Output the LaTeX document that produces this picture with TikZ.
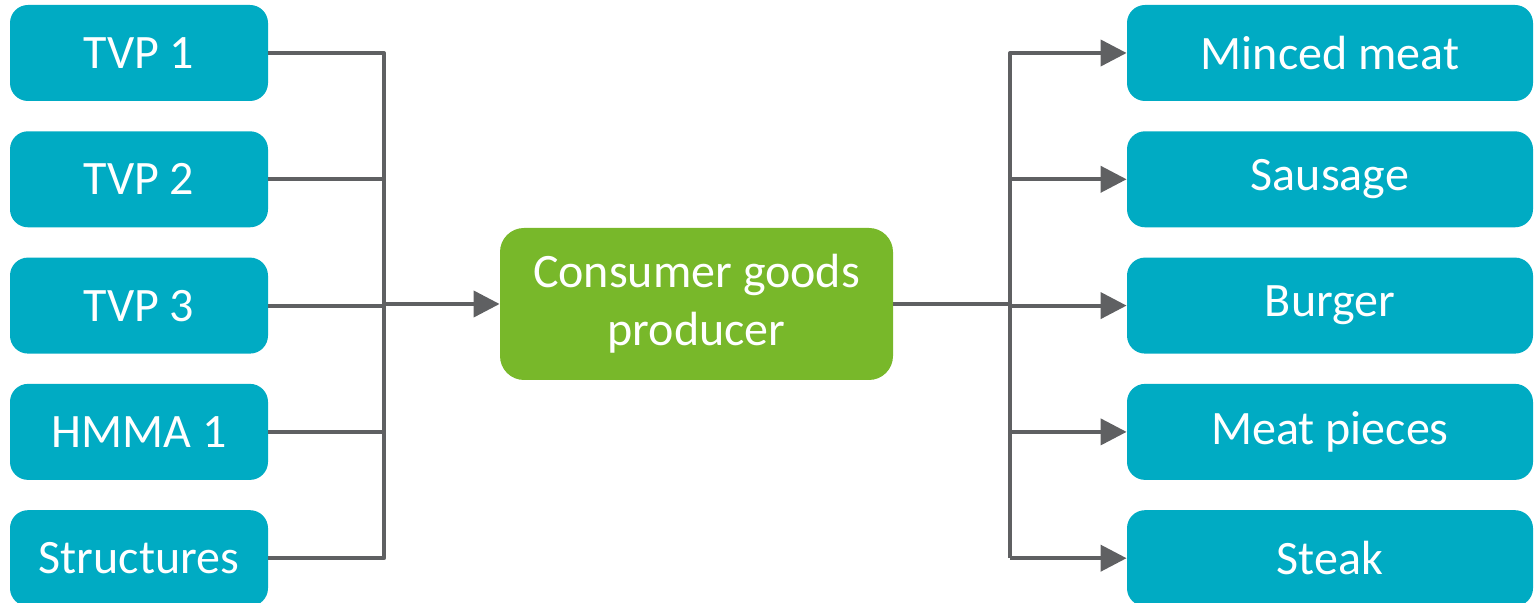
\documentclass[tikz,border=0pt]{standalone}
\usepackage{fontspec}
\setmainfont{Carlito}
\usetikzlibrary{positioning,arrows.meta}

\definecolor{boxteal}{HTML}{00ABC3}
\definecolor{boxgreen}{HTML}{78B82A}
\definecolor{wiregray}{HTML}{5F6062}

\tikzset{
  basebox/.style={rounded corners=9pt, inner sep=0pt, text=white,
    font=\fontsize{24}{29}\selectfont},
  inbox/.style={basebox, fill=boxteal, minimum width=129pt, minimum height=48pt},
  outbox/.style={basebox, fill=boxteal, minimum width=203pt, minimum height=48pt},
  prodbox/.style={basebox, fill=boxgreen, rounded corners=12pt, align=center,
    minimum width=196.5pt, minimum height=76pt},
  wire/.style={draw=wiregray, line width=2pt, line join=round},
  feed/.style={wire, -{Triangle[length=13pt, width=13pt]}}
}

\begin{document}
\begin{tikzpicture}
  \useasboundingbox (0,0) rectangle (769pt,-301.5pt);
  % Inputs
  \node[inbox] (tvp1) at (69.5pt,-26.5pt) {TVP 1};
  \node[inbox, below=14.75pt of tvp1] (tvp2) {TVP 2};
  \node[inbox, below=14.75pt of tvp2] (tvp3) {TVP 3};
  \node[inbox, below=14.75pt of tvp3] (hmma) {HMMA 1};
  \node[inbox, below=14.75pt of hmma] (struct) {Structures};
  % Producer
  \node[prodbox] (prod) at (348.25pt,-152pt) {Consumer goods\\producer};
  % Products
  \node[outbox] (mince) at (665pt,-26.5pt) {Minced meat};
  \node[outbox, below=14.75pt of mince] (sausage) {Sausage};
  \node[outbox, below=14.75pt of sausage] (burger) {Burger};
  \node[outbox, below=14.75pt of burger] (pieces) {Meat pieces};
  \node[outbox, below=14.75pt of pieces] (steak) {Steak};
  % Bus lines
  \coordinate (lbus) at (192pt,0);
  \coordinate (rbus) at (505pt,0);
  % Connect inputs
  \draw[wire] (tvp1.east) -| (lbus |- struct.east) -- (struct.east);
  \foreach \n in {tvp2,tvp3,hmma}
    \draw[wire] (\n.east) -- (lbus |- \n.east);
  \draw[feed] (lbus |- prod.west) -- (prod.west);
  % Connect products
  \draw[wire] (prod.east) -- (rbus |- prod.east);
  \draw[feed] (rbus |- steak.west) |- (mince.west);
  \foreach \n in {sausage,burger,pieces,steak}
    \draw[feed] (rbus |- \n.west) -- (\n.west);
\end{tikzpicture}
\end{document}
